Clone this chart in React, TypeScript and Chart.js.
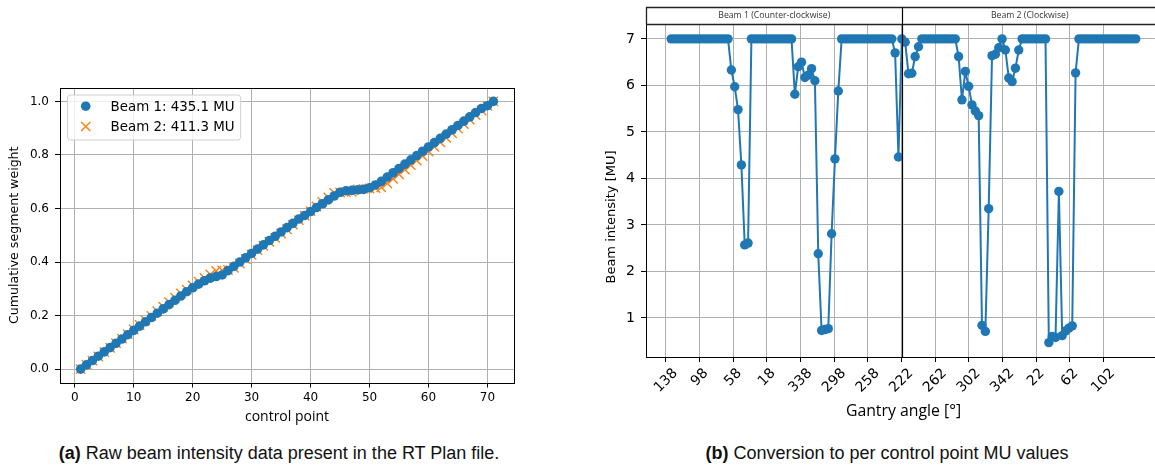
import React, { useEffect, useRef } from 'react';
import { Chart, registerables } from 'chart.js';

Chart.register(...registerables);

// ---------------- data: (a) cumulative segment weight ----------------
const controlPoints = [
  1, 2, 3, 4, 5, 6, 7, 8, 9, 10, 11, 12, 13, 14, 15, 16, 17, 18, 19, 20,
  21, 22, 23, 24, 25, 26, 27, 28, 29, 30, 31, 32, 33, 34, 35, 36, 37, 38, 39, 40,
  41, 42, 43, 44, 45, 46, 47, 48, 49, 50, 51, 52, 53, 54, 55, 56, 57, 58, 59, 60,
  61, 62, 63, 64, 65, 66, 67, 68, 69, 70, 71,
];
const beam1Cumulative = [
  0.0, 0.0161, 0.0321, 0.0482, 0.0643, 0.0803, 0.0964, 0.1125, 0.1285, 0.1446,
  0.1607, 0.1767, 0.1928, 0.2089, 0.2249, 0.241, 0.2571, 0.2731, 0.2892, 0.3037,
  0.3174, 0.33, 0.3398, 0.3457, 0.3517, 0.3678, 0.3839, 0.3999, 0.416, 0.4321,
  0.4481, 0.4642, 0.4803, 0.4963, 0.5124, 0.5284, 0.5445, 0.5606, 0.5739, 0.5886,
  0.6035, 0.6177, 0.632, 0.6466, 0.6606, 0.666, 0.6677, 0.6694, 0.6712, 0.6776,
  0.6878, 0.7013, 0.7173, 0.7334, 0.7495, 0.7655, 0.7816, 0.7977, 0.8137, 0.8298,
  0.8459, 0.8619, 0.878, 0.8941, 0.9101, 0.9262, 0.9423, 0.9583, 0.9737, 0.9839,
  1.0,
];
const beam2Cumulative = [
  0.0, 0.0168, 0.032, 0.0472, 0.0633, 0.0799, 0.0969, 0.1139, 0.1309, 0.1479,
  0.1649, 0.182, 0.199, 0.216, 0.233, 0.25, 0.267, 0.2831, 0.2969, 0.3122,
  0.3267, 0.3403, 0.3535, 0.3665, 0.3686, 0.3703, 0.3784, 0.3946, 0.4108, 0.4273,
  0.4443, 0.4607, 0.4757, 0.4905, 0.506, 0.5224, 0.5394, 0.5564, 0.5734, 0.5904,
  0.6074, 0.6244, 0.6414, 0.6584, 0.6596, 0.661, 0.6624, 0.6715, 0.673, 0.6747,
  0.6766, 0.6786, 0.6939, 0.7109, 0.7279, 0.7449, 0.7619, 0.7789, 0.7959, 0.8129,
  0.8299, 0.8469, 0.864, 0.881, 0.898, 0.915, 0.932, 0.949, 0.966, 0.983,
  1.0,
];
const beam1Label = 'Beam 1: 435.1 MU';
const beam2Label = 'Beam 2: 411.3 MU';
const cpTicks = [0, 10, 20, 30, 40, 50, 60, 70];
const weightTicks = [0, 0.2, 0.4, 0.6, 0.8, 1.0];

// ---------------- data: (b) MU per control point ----------------
const beam1MU = [
  7, 7, 7, 7, 7, 7, 7, 7, 7, 7,
  7, 7, 7, 7, 7, 7, 7, 7, 6.33, 5.97,
  5.48, 4.29, 2.57, 2.61, 7, 7, 7, 7, 7, 7,
  7, 7, 7, 7, 7, 7, 7, 5.81, 6.4, 6.5,
  6.17, 6.22, 6.36, 6.1, 2.38, 0.73, 0.75, 0.77, 2.81, 4.42,
  5.88, 7, 7, 7, 7, 7, 7, 7, 7, 7,
  7, 7, 7, 7, 7, 7, 7, 6.7, 4.46, 7,
];
const beam2MU = [
  6.93, 6.25, 6.26, 6.62, 6.83, 7, 7, 7, 7, 7,
  7, 7, 7, 7, 7, 7, 6.62, 5.69, 6.3, 5.98,
  5.58, 5.45, 5.35, 0.84, 0.71, 3.35, 6.64, 6.67, 6.81, 7.0,
  6.76, 6.16, 6.08, 6.37, 6.76, 7, 7, 7, 7, 7,
  7, 7, 7, 0.47, 0.6, 0.58, 3.72, 0.62, 0.72, 0.78,
  0.83, 6.27, 7, 7, 7, 7, 7, 7, 7, 7,
  7, 7, 7, 7, 7, 7, 7, 7, 7, 7,
];
const angleTickLabels = ['138', '98', '58', '18', '338', '298', '258', '222', '262', '302', '342', '22', '62', '102'];
const muTicks = [1, 2, 3, 4, 5, 6, 7];
const beamHeaders = ['Beam 1 (Counter-clockwise)', 'Beam 2 (Clockwise)'];
const muAxisTitle = 'Beam intensity [MU]';

// axis geometry (in control-point index units along the arc)
const ANGLE_TICK0 = -1.556;
const ANGLE_TICK_STEP = 10.066;
const BEAM_SPLIT = 68.97;

const BLUE = '#1f77b4';
const ORANGE = '#ff7f0e';
const GRID = '#b0b0b0';
const DJ = '"DejaVu Sans", sans-serif';
const OS = '"Open Sans", sans-serif';

function strokeFrame(ctx: CanvasRenderingContext2D, a: any) {
  const l = Math.round(a.left) + 0.5;
  const t = Math.round(a.top) + 0.5;
  const r = Math.round(a.right) + 0.5;
  const b = Math.round(a.bottom) + 0.5;
  ctx.save();
  ctx.strokeStyle = '#000';
  ctx.lineWidth = 1;
  ctx.strokeRect(l, t, r - l, b - t);
  ctx.restore();
}

const leftPlugin = {
  id: 'leftDeco',
  afterDatasetsDraw(chart: any) {
    const ctx: CanvasRenderingContext2D = chart.ctx;
    const a = chart.chartArea;
    strokeFrame(ctx, a);
    // legend box (upper left)
    ctx.save();
    ctx.font = `13.4px ${DJ}`;
    const bx = a.left + 7.5;
    const by = a.top + 7;
    const textX = bx + 43;
    const tw = Math.max(ctx.measureText(beam1Label).width, ctx.measureText(beam2Label).width);
    const bw = textX - bx + tw + 6;
    const bh = 45;
    const r = 3;
    ctx.beginPath();
    ctx.moveTo(bx + r, by);
    ctx.lineTo(bx + bw - r, by);
    ctx.quadraticCurveTo(bx + bw, by, bx + bw, by + r);
    ctx.lineTo(bx + bw, by + bh - r);
    ctx.quadraticCurveTo(bx + bw, by + bh, bx + bw - r, by + bh);
    ctx.lineTo(bx + r, by + bh);
    ctx.quadraticCurveTo(bx, by + bh, bx, by + bh - r);
    ctx.lineTo(bx, by + r);
    ctx.quadraticCurveTo(bx, by, bx + r, by);
    ctx.closePath();
    ctx.fillStyle = 'rgba(255,255,255,0.8)';
    ctx.fill();
    ctx.strokeStyle = '#d0d0d0';
    ctx.lineWidth = 1;
    ctx.stroke();
    const mx = bx + 18.2;
    const row1 = by + 11.2;
    const row2 = by + 31.5;
    ctx.fillStyle = BLUE;
    ctx.beginPath();
    ctx.arc(mx, row1, 4.8, 0, Math.PI * 2);
    ctx.fill();
    ctx.strokeStyle = ORANGE;
    ctx.lineWidth = 1.4;
    ctx.beginPath();
    ctx.moveTo(mx - 4.6, row2 - 4.6);
    ctx.lineTo(mx + 4.6, row2 + 4.6);
    ctx.moveTo(mx - 4.6, row2 + 4.6);
    ctx.lineTo(mx + 4.6, row2 - 4.6);
    ctx.stroke();
    ctx.fillStyle = '#000';
    ctx.textAlign = 'left';
    ctx.textBaseline = 'middle';
    ctx.fillText(beam1Label, textX, row1 + 1);
    ctx.fillText(beam2Label, textX, row2 + 1);
    ctx.restore();
  },
};

const rightPlugin = {
  id: 'rightDeco',
  afterDatasetsDraw(chart: any) {
    const ctx: CanvasRenderingContext2D = chart.ctx;
    const a = chart.chartArea;
    const xs = chart.scales.x;
    strokeFrame(ctx, a);
    const headerTop = 7.5;
    const splitX = Math.round(xs.getPixelForValue(BEAM_SPLIT)) + 0.5;
    ctx.save();
    // header band
    ctx.strokeStyle = '#222';
    ctx.lineWidth = 1.3;
    ctx.beginPath();
    ctx.moveTo(Math.round(a.left) + 0.5, Math.round(a.top) + 0.5);
    ctx.lineTo(Math.round(a.left) + 0.5, headerTop);
    ctx.lineTo(a.right + 2, headerTop);
    ctx.moveTo(a.left, Math.round(a.top) + 0.5);
    ctx.lineTo(a.right + 2, Math.round(a.top) + 0.5);
    ctx.stroke();
    // beam split line
    ctx.strokeStyle = '#000';
    ctx.lineWidth = 1.2;
    ctx.beginPath();
    ctx.moveTo(splitX, headerTop);
    ctx.lineTo(splitX, a.bottom);
    ctx.stroke();
    // header text
    ctx.fillStyle = '#333';
    ctx.font = `8.7px ${OS}`;
    ctx.textAlign = 'center';
    ctx.textBaseline = 'middle';
    const midY = (headerTop + a.top) / 2;
    ctx.fillText(beamHeaders[0], (a.left + splitX) / 2, midY);
    ctx.fillText(beamHeaders[1], (splitX + a.right) / 2 - 2, midY);
    // rotated angle tick labels
    ctx.font = `14px ${DJ}`;
    ctx.fillStyle = '#000';
    const yTop = a.bottom + 10;
    angleTickLabels.forEach((lab, k) => {
      const x = xs.getPixelForValue(ANGLE_TICK0 + k * ANGLE_TICK_STEP);
      const w = ctx.measureText(lab).width;
      const half = (w + 12) / (2 * Math.SQRT2);
      ctx.save();
      ctx.translate(x, yTop + half);
      ctx.rotate(-Math.PI / 4);
      ctx.fillText(lab, 0, 0);
      ctx.restore();
    });
    // y axis title
    ctx.font = `13px ${DJ}`;
    ctx.save();
    ctx.translate(32, 217);
    ctx.rotate(-Math.PI / 2);
    ctx.fillText(muAxisTitle, 0, 0);
    ctx.restore();
    ctx.restore();
  },
};

export default function App() {
  const leftRef = useRef<HTMLCanvasElement | null>(null);
  const rightRef = useRef<HTMLCanvasElement | null>(null);

  useEffect(() => {
    const left = new Chart(leftRef.current as HTMLCanvasElement, {
      type: 'scatter',
      data: {
        datasets: [
          {
            label: beam1Label,
            data: controlPoints.map((x, i) => ({ x, y: beam1Cumulative[i] })),
            pointStyle: 'circle',
            pointRadius: 4.8,
            backgroundColor: BLUE,
            borderColor: BLUE,
            borderWidth: 0,
            showLine: false,
          },
          {
            label: beam2Label,
            data: controlPoints.map((x, i) => ({ x, y: beam2Cumulative[i] })),
            pointStyle: 'crossRot',
            pointRadius: 6.6,
            backgroundColor: ORANGE,
            borderColor: ORANGE,
            borderWidth: 1.4,
            showLine: false,
          },
        ],
      },
      options: {
        animation: false,
        responsive: false,
        maintainAspectRatio: false,
        events: [],
        layout: { padding: { left: 0, top: 88, right: 46, bottom: 0 } },
        plugins: { legend: { display: false }, tooltip: { enabled: false }, title: { display: false } },
        scales: {
          x: {
            type: 'linear',
            min: -2.5,
            max: 74.5,
            afterBuildTicks: (s: any) => {
              s.ticks = cpTicks.map((v) => ({ value: v }));
            },
            afterFit: (s: any) => {
              s.height = 57.5;
            },
            grid: { color: GRID, lineWidth: 1, tickLength: 5, tickColor: '#000', tickWidth: 1 },
            border: { display: false },
            ticks: {
              font: { family: DJ, size: 12 },
              color: '#000',
              padding: 3,
              maxRotation: 0,
              callback: (v: any) => String(v),
            },
            title: {
              display: true,
              text: 'control point',
              font: { family: OS, size: 14 },
              color: '#000',
              padding: { top: 0, bottom: 15 },
            },
          },
          y: {
            type: 'linear',
            min: -0.05,
            max: 1.05,
            afterBuildTicks: (s: any) => {
              s.ticks = weightTicks.map((v) => ({ value: v }));
            },
            afterFit: (s: any) => {
              s.width = 60;
            },
            grid: { color: GRID, lineWidth: 1, tickLength: 5, tickColor: '#000', tickWidth: 1 },
            border: { display: false },
            ticks: {
              font: { family: DJ, size: 12 },
              color: '#000',
              padding: 6,
              callback: (v: any) => Number(v).toFixed(1),
            },
            title: {
              display: true,
              text: 'Cumulative segment weight',
              font: { family: DJ, size: 12.6 },
              color: '#000',
              padding: { top: 7, bottom: 0 },
            },
          },
        },
      },
      plugins: [leftPlugin],
    } as any);

    const muData = [...beam1MU, ...beam2MU].map((y, i) => ({ x: i, y }));
    const right = new Chart(rightRef.current as HTMLCanvasElement, {
      type: 'scatter',
      data: {
        datasets: [
          {
            label: 'MU per control point',
            data: muData,
            showLine: true,
            borderColor: BLUE,
            borderWidth: 2,
            borderJoinStyle: 'round',
            pointRadius: 4.7,
            pointBackgroundColor: BLUE,
            pointBorderWidth: 0,
            pointBorderColor: BLUE,
          },
        ],
      },
      options: {
        animation: false,
        responsive: false,
        maintainAspectRatio: false,
        events: [],
        layout: { padding: { left: 0, top: 24, right: 19, bottom: 0 } },
        plugins: { legend: { display: false }, tooltip: { enabled: false }, title: { display: false } },
        scales: {
          x: {
            type: 'linear',
            min: -7.54,
            max: 146.56,
            afterBuildTicks: (s: any) => {
              s.ticks = angleTickLabels.map((_, k) => ({ value: ANGLE_TICK0 + k * ANGLE_TICK_STEP }));
            },
            afterFit: (s: any) => {
              s.height = 83;
            },
            grid: { color: GRID, lineWidth: 1, tickLength: 5, tickColor: '#000', tickWidth: 1 },
            border: { display: false },
            ticks: { display: false },
            title: {
              display: true,
              text: 'Gantry angle [°]',
              font: { family: OS, size: 15.8 },
              color: '#000',
              padding: { top: 0, bottom: 19 },
            },
          },
          y: {
            type: 'linear',
            min: 0.16,
            max: 7.32,
            afterBuildTicks: (s: any) => {
              s.ticks = muTicks.map((v) => ({ value: v }));
            },
            afterFit: (s: any) => {
              s.width = 66;
            },
            grid: { color: GRID, lineWidth: 1, tickLength: 5, tickColor: '#000', tickWidth: 1 },
            border: { display: false },
            ticks: {
              font: { family: DJ, size: 14 },
              color: '#000',
              padding: 6,
              callback: (v: any) => String(v),
            },
            title: { display: false },
          },
        },
      },
      plugins: [rightPlugin],
    } as any);

    return () => {
      left.destroy();
      right.destroy();
    };
  }, []);

  const captionStyle: React.CSSProperties = {
    position: 'absolute',
    top: 443,
    transform: 'translateX(-50%)',
    whiteSpace: 'nowrap',
    fontFamily: '"Liberation Sans", Arial, sans-serif',
    fontSize: 18,
    lineHeight: '20px',
    color: '#111',
  };

  return (
    <div
      style={{
        position: 'absolute',
        left: 0,
        top: 0,
        width: 1155,
        height: 465,
        overflow: 'hidden',
        background: '#fff',
      }}
    >
      <canvas ref={leftRef} width={560} height={440} style={{ position: 'absolute', left: 0, top: 0 }} />
      <canvas ref={rightRef} width={600} height={440} style={{ position: 'absolute', left: 580, top: 0 }} />
      <div style={{ ...captionStyle, left: 279 }}>
        <b>(a)</b> Raw beam intensity data present in the RT Plan file.
      </div>
      <div style={{ ...captionStyle, left: 887 }}>
        <b>(b)</b> Conversion to per control point MU values
      </div>
    </div>
  );
}
